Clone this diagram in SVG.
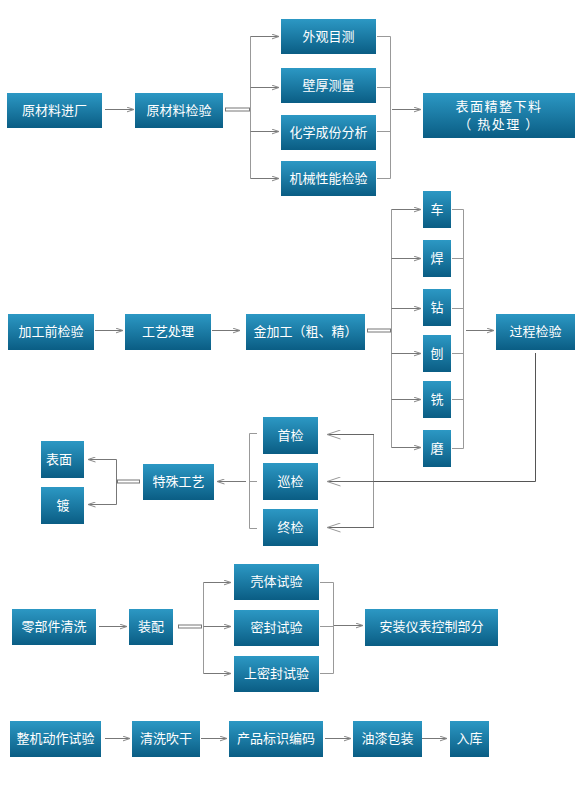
<svg xmlns="http://www.w3.org/2000/svg" width="580" height="800" viewBox="0 0 580 800">
<defs>
<linearGradient id="g" x1="0" y1="0" x2="0" y2="1">
<stop offset="0" stop-color="#2c98c4"/>
<stop offset="1" stop-color="#0a5d84"/>
</linearGradient>
<marker id="a" viewBox="0 0 8 6" refX="7.5" refY="3" markerWidth="8" markerHeight="6" markerUnits="userSpaceOnUse" orient="auto">
<path d="M0,0.5 L7.5,3 L0,5.5" fill="none" stroke="#888" stroke-width="1"/>
</marker>
<marker id="b" viewBox="0 0 14 10" refX="13.5" refY="5" markerWidth="14" markerHeight="10" markerUnits="userSpaceOnUse" orient="auto">
<path d="M0,0.5 L13.5,5 L0,9.5" fill="none" stroke="#999" stroke-width="1"/>
</marker>
</defs>
<style>
.n rect{fill:url(#g);}
.n text{fill:#fff;font-family:"Noto Sans CJK SC","Noto Sans",sans-serif;font-size:13px;text-anchor:middle;}
.c line,.c polyline{fill:none;stroke:#999;stroke-width:1;}
.c .ar{stroke:#777;marker-end:url(#a);}
.c .br{stroke:#666;marker-end:url(#b);}
.c .dbl{fill:#fff;stroke:#777;stroke-width:1;}
.c .dk{stroke:#555;}
</style>
<rect width="580" height="800" fill="#fff"/>
<g class="c" id="connectors">
<!-- row 1 -->
<line class="ar" x1="105" y1="109.5" x2="134" y2="109.5"/>
<rect class="dbl" x="225.5" y="108" width="24" height="3"/>
<line x1="250.5" y1="36.5" x2="250.5" y2="178.5"/>
<line class="ar" x1="250.5" y1="36.5" x2="279" y2="36.5"/>
<line class="ar" x1="250.5" y1="87.5" x2="279" y2="87.5"/>
<line class="ar" x1="250.5" y1="131.5" x2="279" y2="131.5"/>
<line class="ar" x1="250.5" y1="178.5" x2="279" y2="178.5"/>
<polyline points="377,36.5 390.5,36.5 390.5,178.5 377,178.5"/>
<line x1="377" y1="87.5" x2="390.5" y2="87.5"/>
<line x1="377" y1="131.5" x2="390.5" y2="131.5"/>
<line class="ar" x1="392" y1="109.5" x2="421" y2="109.5"/>
<!-- row 2 -->
<line class="ar" x1="95" y1="330.5" x2="123" y2="330.5"/>
<line class="ar" x1="212" y1="330.5" x2="240" y2="330.5"/>
<rect class="dbl" x="367.5" y="329" width="23" height="3"/>
<line x1="391.5" y1="209.5" x2="391.5" y2="447.5"/>
<line class="ar" x1="391.5" y1="209.5" x2="421" y2="209.5"/>
<line class="ar" x1="391.5" y1="258.5" x2="421" y2="258.5"/>
<line class="ar" x1="391.5" y1="308.5" x2="421" y2="308.5"/>
<line class="ar" x1="391.5" y1="353.5" x2="421" y2="353.5"/>
<line class="ar" x1="391.5" y1="399.5" x2="421" y2="399.5"/>
<line class="ar" x1="391.5" y1="447.5" x2="421" y2="447.5"/>
<polyline points="452,209.5 463.5,209.5 463.5,448.5 452,448.5"/>
<line x1="452" y1="258.5" x2="463.5" y2="258.5"/>
<line x1="452" y1="308.5" x2="463.5" y2="308.5"/>
<line x1="452" y1="353.5" x2="463.5" y2="353.5"/>
<line x1="452" y1="399.5" x2="463.5" y2="399.5"/>
<line class="ar" x1="466" y1="330.5" x2="494" y2="330.5"/>
<polyline class="dk" points="535.5,353 535.5,481.5 374,481.5"/>
<!-- row 3 -->
<line x1="373.5" y1="434.5" x2="373.5" y2="527.5" stroke="#aaa"/>
<line class="br" x1="374" y1="434.5" x2="327" y2="434.5"/>
<line class="br" x1="374" y1="481.5" x2="327" y2="481.5"/>
<line class="br" x1="374" y1="527.5" x2="327" y2="527.5"/>
<polyline points="257,433.5 249.5,433.5 249.5,528.5 257,528.5"/>
<line x1="249.5" y1="481.5" x2="257" y2="481.5"/>
<line class="ar" x1="246" y1="481.5" x2="217" y2="481.5"/>
<rect class="dbl" x="117.5" y="480" width="22" height="3"/>
<polyline class="ar" points="116.5,481 116.5,459.5 88,459.5"/>
<polyline class="ar" points="116.5,481 116.5,504.5 88,504.5"/>
<!-- row 4 -->
<line class="ar" x1="99" y1="626.5" x2="127" y2="626.5"/>
<rect class="dbl" x="178.5" y="625" width="23" height="3"/>
<line x1="203.5" y1="582.5" x2="203.5" y2="673.5"/>
<line class="ar" x1="203.5" y1="582.5" x2="231" y2="582.5"/>
<line class="ar" x1="203.5" y1="626.5" x2="231" y2="626.5"/>
<line class="ar" x1="203.5" y1="673.5" x2="231" y2="673.5"/>
<polyline points="320,582.5 333.5,582.5 333.5,673.5 320,673.5"/>
<line x1="320" y1="626.5" x2="333.5" y2="626.5"/>
<line class="ar" x1="334" y1="625.5" x2="363" y2="625.5"/>
<!-- row 5 -->
<line class="ar" x1="105" y1="738.5" x2="130" y2="738.5"/>
<line class="ar" x1="201" y1="738.5" x2="227" y2="738.5"/>
<line class="ar" x1="325" y1="738.5" x2="351" y2="738.5"/>
<line class="ar" x1="422" y1="738.5" x2="447" y2="738.5"/>
</g>
<!-- row 1 nodes -->
<g class="n" id="n1"><rect x="7" y="93" width="95" height="35"/><text x="54.5" y="115">原材料进厂</text></g>
<g class="n" id="n2"><rect x="135" y="93" width="88" height="35"/><text x="179" y="115">原材料检验</text></g>
<g class="n" id="n3"><rect x="281" y="19" width="95" height="35"/><text x="328.5" y="41">外观目测</text></g>
<g class="n" id="n4"><rect x="281" y="68" width="95" height="35"/><text x="328.5" y="90">壁厚测量</text></g>
<g class="n" id="n5"><rect x="281" y="115" width="95" height="35"/><text x="328.5" y="137">化学成份分析</text></g>
<g class="n" id="n6"><rect x="281" y="161" width="95" height="35"/><text x="328.5" y="183">机械性能检验</text></g>
<g class="n" id="n7"><rect x="423" y="93" width="152" height="45"/><text x="499" y="111" letter-spacing="1.5">表面精整下料</text><text x="499" y="129" letter-spacing="1.5">（ 热处理 ）</text></g>
<!-- row 2 nodes -->
<g class="n" id="n8"><rect x="8" y="314" width="86" height="36"/><text x="51" y="336">加工前检验</text></g>
<g class="n" id="n9"><rect x="125" y="314" width="86" height="36"/><text x="168" y="336">工艺处理</text></g>
<g class="n" id="n10"><rect x="246" y="314" width="119" height="36"/><text x="305.5" y="336">金加工（粗、精）</text></g>
<g class="n" id="n11"><rect x="423" y="191" width="28" height="37"/><text x="437" y="214">车</text></g>
<g class="n" id="n12"><rect x="423" y="240" width="28" height="37"/><text x="437" y="263">焊</text></g>
<g class="n" id="n13"><rect x="423" y="289" width="28" height="37"/><text x="437" y="312">钻</text></g>
<g class="n" id="n14"><rect x="423" y="335" width="28" height="37"/><text x="437" y="358">刨</text></g>
<g class="n" id="n15"><rect x="423" y="381" width="28" height="37"/><text x="437" y="404">铣</text></g>
<g class="n" id="n16"><rect x="423" y="430" width="28" height="37"/><text x="437" y="453">磨</text></g>
<g class="n" id="n17"><rect x="496" y="314" width="79" height="36"/><text x="535.5" y="336">过程检验</text></g>
<!-- row 3 nodes -->
<g class="n" id="n18"><rect x="41" y="441" width="43" height="37"/><text x="59" y="464">表面</text></g>
<g class="n" id="n19"><rect x="41" y="487" width="43" height="37"/><text x="63" y="510">镀</text></g>
<g class="n" id="n20"><rect x="143" y="464" width="71" height="36"/><text x="178.5" y="486">特殊工艺</text></g>
<g class="n" id="n21"><rect x="263" y="417" width="55" height="37"/><text x="290.5" y="440">首检</text></g>
<g class="n" id="n22"><rect x="263" y="463" width="55" height="37"/><text x="290.5" y="486">巡检</text></g>
<g class="n" id="n23"><rect x="263" y="509" width="55" height="37"/><text x="290.5" y="532">终检</text></g>
<!-- row 4 nodes -->
<g class="n" id="n24"><rect x="12" y="609" width="84" height="36"/><text x="54" y="631">零部件清洗</text></g>
<g class="n" id="n25"><rect x="129" y="609" width="44" height="36"/><text x="151" y="631">装配</text></g>
<g class="n" id="n26"><rect x="234" y="564" width="85" height="36"/><text x="276.5" y="586">壳体试验</text></g>
<g class="n" id="n27"><rect x="234" y="610" width="85" height="36"/><text x="276.5" y="632">密封试验</text></g>
<g class="n" id="n28"><rect x="234" y="656" width="85" height="36"/><text x="276.5" y="678">上密封试验</text></g>
<g class="n" id="n29"><rect x="365" y="609" width="133" height="37"/><text x="431.5" y="631">安装仪表控制部分</text></g>
<!-- row 5 nodes -->
<g class="n" id="n30"><rect x="10" y="721" width="91" height="36"/><text x="55.5" y="743">整机动作试验</text></g>
<g class="n" id="n31"><rect x="132" y="721" width="68" height="36"/><text x="166" y="743">清洗吹干</text></g>
<g class="n" id="n32"><rect x="229" y="721" width="94" height="36"/><text x="276" y="743">产品标识编码</text></g>
<g class="n" id="n33"><rect x="353" y="721" width="69" height="36"/><text x="387.5" y="743">油漆包装</text></g>
<g class="n" id="n34"><rect x="450" y="721" width="39" height="36"/><text x="469.5" y="743">入库</text></g>
</svg>
